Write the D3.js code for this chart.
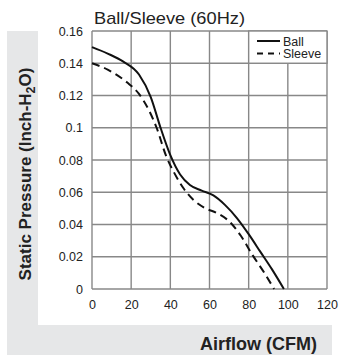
<!DOCTYPE html>
<html><head><meta charset="utf-8">
<script src="https://cdn.jsdelivr.net/npm/d3@7"></script>
<style>body{margin:0;background:#fff}svg{display:block}text{font-family:"Liberation Sans",Arial,sans-serif}</style>
</head><body><svg id="c" width="339" height="356"></svg>
<script>
const title = "Ball/Sleeve (60Hz)";
const xLabel = "Airflow (CFM)";
const yLabelParts = ["Static Pressure (Inch-H", "2", "O)"];
const xTicks = [0, 20, 40, 60, 80, 100, 120];
const xTickLabels = ["0", "20", "40", "60", "80", "100", "120"];
const yTicks = [0, 0.02, 0.04, 0.06, 0.08, 0.1, 0.12, 0.14, 0.16];
const yTickLabels = ["0", "0.02", "0.04", "0.06", "0.08", "0.1", "0.12", "0.14", "0.16"];
const seriesNames = ["Ball", "Sleeve"];
const ballFlow = [0, 8, 16, 24, 30, 35, 40, 45, 50, 56, 62, 68, 74, 80, 86, 92, 98];
const ballPressure = [0.15, 0.146, 0.141, 0.133, 0.119, 0.100, 0.083, 0.071, 0.0645, 0.061, 0.058, 0.052, 0.044, 0.034, 0.023, 0.012, 0];
const sleeveFlow = [0, 8, 18, 24, 29, 33, 38, 42, 47, 52, 58, 64, 70, 76, 82, 88, 93];
const sleevePressure = [0.14, 0.136, 0.128, 0.121, 0.111, 0.100, 0.082, 0.072, 0.062, 0.055, 0.050, 0.047, 0.042, 0.033, 0.021, 0.010, 0];

const svg = d3.select("#c");
const x = d3.scaleLinear().domain([0, 120]).range([92, 327]);
const y = d3.scaleLinear().domain([0, 0.16]).range([289, 31]);
const grid = "#888888", panel = "#e6e7e8";

// grey L panel
svg.append("rect").attr("x", 7).attr("y", 31).attr("width", 31).attr("height", 324).attr("fill", panel);
svg.append("rect").attr("x", 7).attr("y", 325).attr("width", 325).attr("height", 30).attr("fill", panel);

// grid
const g = svg.append("g");
g.selectAll("line.v").data(xTicks).join("line")
  .attr("x1", d => x(d)).attr("x2", d => x(d)).attr("y1", y(0.16)).attr("y2", y(0))
  .attr("stroke", grid).attr("stroke-width", 1.4);
g.selectAll("line.h").data(yTicks).join("line").attr("class", "h")
  .attr("x1", x(0)).attr("x2", x(120)).attr("y1", d => y(d)).attr("y2", d => y(d))
  .attr("stroke", grid).attr("stroke-width", 1.4);

// axes labels via d3 axes (no domain/ticks)
const xa = svg.append("g").attr("transform", `translate(0,${y(0)})`)
  .call(d3.axisBottom(x).tickValues(xTicks).tickFormat((d, i) => xTickLabels[i]).tickSize(0).tickPadding(11));
const ya = svg.append("g").attr("transform", `translate(${x(0)},0)`)
  .call(d3.axisLeft(y).tickValues(yTicks).tickFormat((d, i) => yTickLabels[i]).tickSize(0).tickPadding(9));
[xa, ya].forEach(a => {
  a.select(".domain").remove();
  a.selectAll("text").attr("font-size", 12.5).attr("fill", "#222").style("font-family", '"Liberation Sans",Arial,sans-serif');
});

// lines
const line = d3.line().x(d => x(d[0])).y(d => y(d[1])).curve(d3.curveMonotoneX);
const ball = ballFlow.map((f, i) => [f, ballPressure[i]]);
const sleeve = sleeveFlow.map((f, i) => [f, sleevePressure[i]]);
svg.append("path").attr("d", line(ball)).attr("fill", "none").attr("stroke", "#111").attr("stroke-width", 2);
svg.append("path").attr("d", line(sleeve)).attr("fill", "none").attr("stroke", "#111").attr("stroke-width", 2).attr("stroke-dasharray", "8,5");

// legend box
svg.append("rect").attr("x", x(80)).attr("y", y(0.16)).attr("width", x(120) - x(80)).attr("height", y(0.14) - y(0.16))
  .attr("fill", "#fff").attr("stroke", grid).attr("stroke-width", 1.4);
const lg = svg.append("g");
seriesNames.forEach((n, i) => {
  const yy = 41 + i * 12.5;
  lg.append("line").attr("x1", 257).attr("x2", 280).attr("y1", yy).attr("y2", yy)
    .attr("stroke", "#111").attr("stroke-width", 2).attr("stroke-dasharray", i ? "6,5" : null);
  lg.append("text").attr("x", 283).attr("y", yy + 4.5).attr("font-size", 12.5).attr("fill", "#222").text(n);
});

// title
svg.append("text").attr("x", 169.5).attr("y", 24).attr("text-anchor", "middle").attr("font-size", 17)
  .attr("textLength", 151).attr("lengthAdjust", "spacingAndGlyphs").attr("fill", "#222").text(title);

// x label
svg.append("text").attr("x", 317).attr("y", 350).attr("text-anchor", "end").attr("font-size", 18).attr("font-weight", "bold").attr("fill", "#222").text(xLabel);

// y label
const yl = svg.append("text").attr("transform", "translate(31,174) rotate(-90)").attr("text-anchor", "middle")
  .attr("font-size", 17).attr("font-weight", "bold").attr("fill", "#222");
yl.append("tspan").text(yLabelParts[0]);
yl.append("tspan").attr("font-size", 12.5).attr("dy", 4).text(yLabelParts[1]);
yl.append("tspan").attr("dy", -4).text(yLabelParts[2]);
</script></body></html>
